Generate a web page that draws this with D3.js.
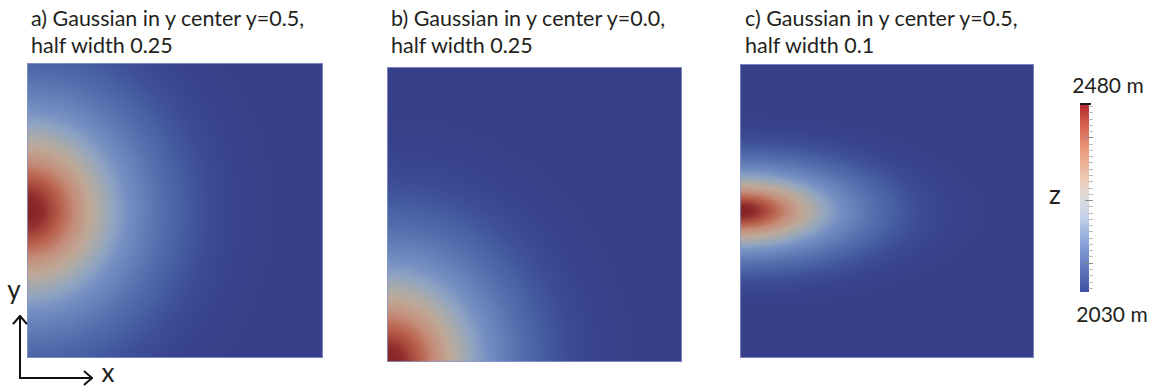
<!DOCTYPE html>
<html>
<head>
<meta charset="utf-8">
<script src="https://cdn.jsdelivr.net/npm/d3@7"></script>
<style>
  html, body { margin: 0; padding: 0; background: #fff; }
  svg { display: block; }
  text { font-family: Lato, "Open Sans", sans-serif; fill: #231f20; }
</style>
</head>
<body>
<script>
// ---- data ----
const panelIds      = ["a", "b", "c"];
const titleLine1    = ["a) Gaussian in y center y=0.5,", "b) Gaussian in y center y=0.0,", "c) Gaussian in y center y=0.5,"];
const titleLine2    = ["half width 0.25", "half width 0.25", "half width 0.1"];
const centerY       = [0.5, 0.0, 0.5];
const halfWidthY    = [0.25, 0.25, 0.1];
const halfWidthX    = [0.25, 0.25, 0.25];
const zMin = 2030, zMax = 2480;
const colorbarLabels = ["2480 m", "2030 m"];
const colorbarTitle = "z";

// ---- layout ----
const W = 1158, H = 387;
const panels = [
  { x: 27,  y: 63, w: 296, h: 295, tx: 31,  ty: 26 },
  { x: 387, y: 67, w: 295, h: 295, tx: 391, ty: 26 },
  { x: 740, y: 64, w: 294, h: 294, tx: 745, ty: 26 }
];

// shaded surface colour (lit view of the elevation field)
const surfStops  = [0, 0.04, 0.115, 0.26, 0.40, 0.50, 0.61, 0.69, 0.815, 0.90, 0.95, 0.975, 1.0];
const surfColors = ["#363f87", "#3c4996", "#4761a3", "#5f7cb6", "#7690c2", "#90a4c2",
                    "#aaaaa8", "#bfa898", "#c48c78", "#b9624d", "#a6453b", "#923030", "#842228"];
const surfColor = d3.scaleLinear()
  .domain(surfStops.map(t => zMin + t * (zMax - zMin)))
  .range(surfColors)
  .interpolate(d3.interpolateRgb)
  .clamp(true);

// colour legend (cool to warm)
const barStops  = [0, 0.25, 0.4, 0.5, 0.6, 0.75, 0.9, 1];
const barColors = ["#3e50a4", "#86a0d6", "#c4d2ea", "#dddcdb", "#eccab6", "#ea9c7e", "#d25c4a", "#b3262f"];
const barColor = d3.scaleLinear()
  .domain(barStops.map(t => zMin + t * (zMax - zMin)))
  .range(barColors)
  .interpolate(d3.interpolateRgb);

const svg = d3.select("body").append("svg")
  .attr("width", W).attr("height", H).attr("viewBox", `0 0 ${W} ${H}`);

// ---- panels ----
panels.forEach((p, i) => {
  const xs = d3.scaleLinear().domain([0, 1]).range([0, p.w]);
  const ys = d3.scaleLinear().domain([0, 1]).range([p.h, 0]);
  const sx = halfWidthX[i], sy = halfWidthY[i], cy = centerY[i];
  const elev = (x, y) => zMin + (zMax - zMin) *
      Math.exp(-(x * x) / (2 * sx * sx)) *
      Math.exp(-((y - cy) * (y - cy)) / (2 * sy * sy));

  const canvas = document.createElement("canvas");
  canvas.width = p.w; canvas.height = p.h;
  const ctx = canvas.getContext("2d");
  const img = ctx.createImageData(p.w, p.h);
  for (let py = 0; py < p.h; py++) {
    const y = ys.invert(py + 0.5);
    for (let px = 0; px < p.w; px++) {
      const x = xs.invert(px + 0.5);
      const c = d3.rgb(surfColor(elev(x, y)));
      const k = 4 * (py * p.w + px);
      img.data[k] = c.r; img.data[k + 1] = c.g; img.data[k + 2] = c.b; img.data[k + 3] = 255;
    }
  }
  ctx.putImageData(img, 0, 0);

  const g = svg.append("g").attr("class", "panel panel-" + panelIds[i])
    .attr("transform", `translate(${p.x},${p.y})`);
  g.append("image")
    .attr("width", p.w).attr("height", p.h)
    .attr("preserveAspectRatio", "none")
    .attr("href", canvas.toDataURL());
  g.append("rect")
    .attr("x", 0.5).attr("y", 0.5)
    .attr("width", p.w - 1).attr("height", p.h - 1)
    .attr("fill", "none").attr("stroke", "#8a96cc").attr("stroke-width", 1).attr("opacity", 0.8);

  const t = svg.append("text").attr("x", p.tx).attr("y", p.ty).attr("font-size", 21.5);
  t.append("tspan").attr("x", p.tx).text(titleLine1[i]);
  t.append("tspan").attr("x", p.tx).attr("dy", 27).text(titleLine2[i]);
});

// ---- colour bar ----
const bar = { x: 1080, w: 9, top: 104, bottom: 292 };
const zScale = d3.scaleLinear().domain([zMin, zMax]).range([bar.bottom, bar.top]);

const grad = svg.append("defs").append("linearGradient")
  .attr("id", "zgrad").attr("x1", 0).attr("y1", 1).attr("x2", 0).attr("y2", 0);
d3.range(0, 1.0001, 0.05).forEach(t => {
  grad.append("stop").attr("offset", t).attr("stop-color", barColor(zMin + t * (zMax - zMin)));
});
svg.append("rect")
  .attr("x", bar.x).attr("y", zScale(zMax))
  .attr("width", bar.w).attr("height", zScale(zMin) - zScale(zMax))
  .attr("fill", "url(#zgrad)");

const tickValues = d3.range(2040, 2476, 15);
svg.append("g").attr("class", "bar-ticks")
  .selectAll("line").data(tickValues).join("line")
  .attr("x1", d => d % 150 === 0 ? bar.x + 5 : bar.x + 8.5)
  .attr("x2", bar.x + 13)
  .attr("y1", d => Math.round(zScale(d)) + 0.5)
  .attr("y2", d => Math.round(zScale(d)) + 0.5)
  .attr("stroke", d => d % 150 === 0 ? "#8c8c8c" : "#bdbdbd")
  .attr("stroke-width", 1);

svg.append("line")
  .attr("x1", bar.x).attr("x2", bar.x + 11)
  .attr("y1", zScale(zMax)).attr("y2", zScale(zMax))
  .attr("stroke", "#1a1a1a").attr("stroke-width", 2);

svg.append("text").attr("x", 1108).attr("y", 93).attr("text-anchor", "middle")
  .attr("font-size", 21).text(colorbarLabels[0]);
svg.append("text").attr("x", 1112).attr("y", 322).attr("text-anchor", "middle")
  .attr("font-size", 21).text(colorbarLabels[1]);
svg.append("text").attr("x", 1055).attr("y", 204).attr("text-anchor", "middle")
  .attr("font-size", 26).text(colorbarTitle);

// ---- orientation arrows ----
const ax = svg.append("g").attr("fill", "none").attr("stroke", "#111")
  .attr("stroke-width", 2).attr("stroke-linecap", "round").attr("stroke-linejoin", "round");
ax.append("path").attr("d", "M20,378 V316");
ax.append("path").attr("d", "M13.5,323.5 L20,316 L26.5,323.5");
ax.append("path").attr("d", "M20,378 H92");
ax.append("path").attr("d", "M84.5,371.5 L92,378 L84.5,384.5");
svg.append("text").attr("x", 14).attr("y", 299).attr("text-anchor", "middle")
  .attr("font-size", 26).text("y");
svg.append("text").attr("x", 108).attr("y", 382).attr("text-anchor", "middle")
  .attr("font-size", 26).text("x");
</script>
</body>
</html>
